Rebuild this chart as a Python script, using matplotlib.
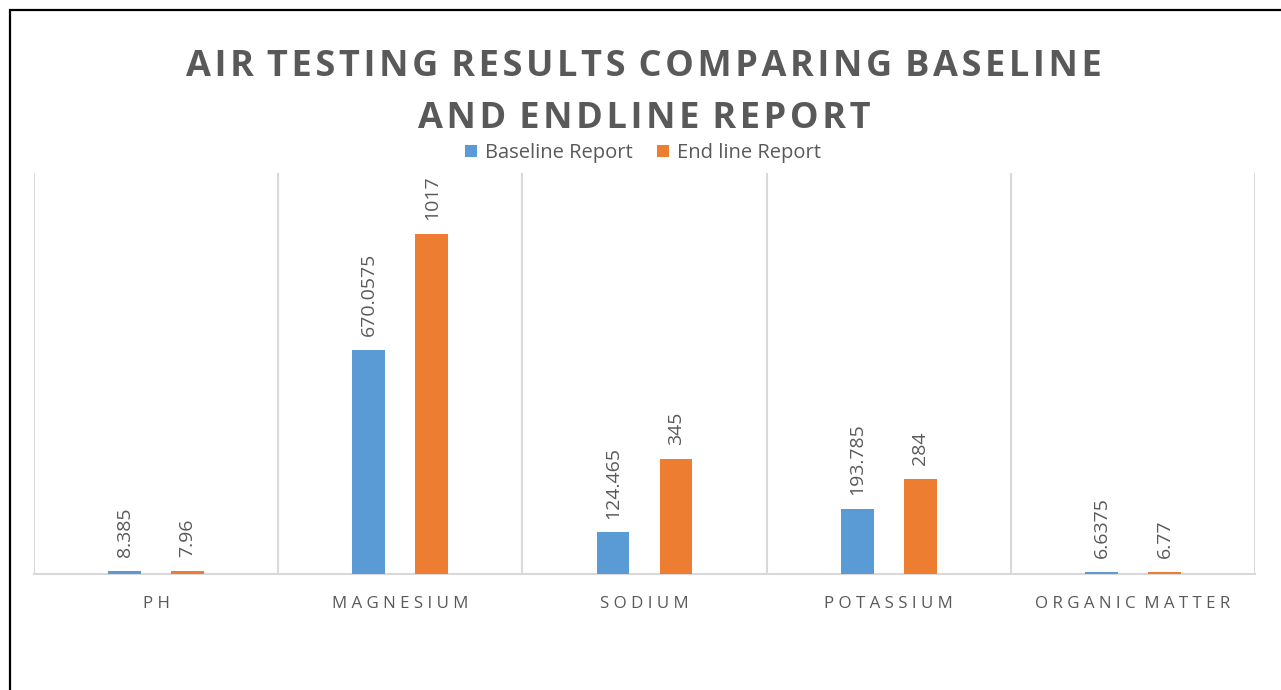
import matplotlib.pyplot as plt
import matplotlib.patches as mpatches
import numpy as np

plt.rcParams['font.family'] = ['Open Sans', 'DejaVu Sans']

categories = ['PH', 'MAGNESIUM', 'SODIUM', 'POTASSIUM', 'ORGANIC MATTER']
baseline = [8.385, 670.0575, 124.465, 193.785, 6.6375]
endline = [7.96, 1017, 345, 284, 6.77]
baseline_labels = ['8.385', '670.0575', '124.465', '193.785', '6.6375']
endline_labels = ['7.96', '1017', '345', '284', '6.77']

BLUE = '#5B9BD5'
ORANGE = '#ED7D31'
GREY = '#595959'
GRID = '#D9D9D9'

def spaced(s, gap=' ', word='  '):
    # mimic Excel letter spacing
    return word.join(gap.join(w) for w in s.split(' '))

fig = plt.figure(figsize=(12.81, 6.90), dpi=100)
ax = fig.add_axes([34 / 1281, 1 - 574 / 690, (1255 - 34) / 1281, (574 - 173) / 690])

x = np.arange(len(categories))
off = 0.129
w = 0.135
b1 = ax.bar(x - off, baseline, w, color=BLUE, label='Baseline Report', zorder=3)
b2 = ax.bar(x + off, endline, w, color=ORANGE, label='End line Report', zorder=3)

for bars, labs in ((b1, baseline_labels), (b2, endline_labels)):
    for r, t in zip(bars, labs):
        ax.annotate(t, (r.get_x() + r.get_width() / 2, r.get_height()),
                    xytext=(0, 10), textcoords='offset points', rotation=90,
                    ha='center', va='bottom', fontsize=14, color=GREY)

ax.set_xlim(-0.5, len(categories) - 0.5)
ax.set_ylim(0, 1200)
ax.set_yticks([])
ax.set_xticks(x)
ax.set_xticklabels([spaced(c) for c in categories], fontsize=12.2, color=GREY)
ax.tick_params(axis='x', length=0, pad=16)
for b in np.arange(-0.5, len(categories), 1):
    ax.axvline(b, color=GRID, lw=1.5, zorder=1)
for s in ['top', 'left', 'right']:
    ax.spines[s].set_visible(False)
ax.spines['bottom'].set_color(GRID)
ax.spines['bottom'].set_linewidth(1.5)

title_gap = '\u200a'
fig.text(644 / 1281, 1 - 67 / 690, spaced('AIR TESTING RESULTS COMPARING BASELINE', title_gap, ' ' + title_gap),
         ha='center', va='center', fontsize=26, fontweight='bold', color=GREY)
fig.text(644 / 1281, 1 - 119 / 690, spaced('AND ENDLINE REPORT', title_gap, ' ' + title_gap),
         ha='center', va='center', fontsize=26, fontweight='bold', color=GREY)

fig.legend(handles=[b1, b2], loc='center', bbox_to_anchor=(643 / 1281, 1 - 153 / 690),
           ncol=2, frameon=False, fontsize=14.5, handlelength=0.6, handleheight=0.6,
           handletextpad=0.4, columnspacing=1.2, labelcolor=GREY)

fig.add_artist(mpatches.Rectangle((9.5 / 1281, -0.2), 1.5, 1.2 - 9.5 / 690,
                                  transform=fig.transFigure, fill=False,
                                  edgecolor='black', lw=1.6))

fig.savefig('out.png', dpi=100, facecolor='white')
